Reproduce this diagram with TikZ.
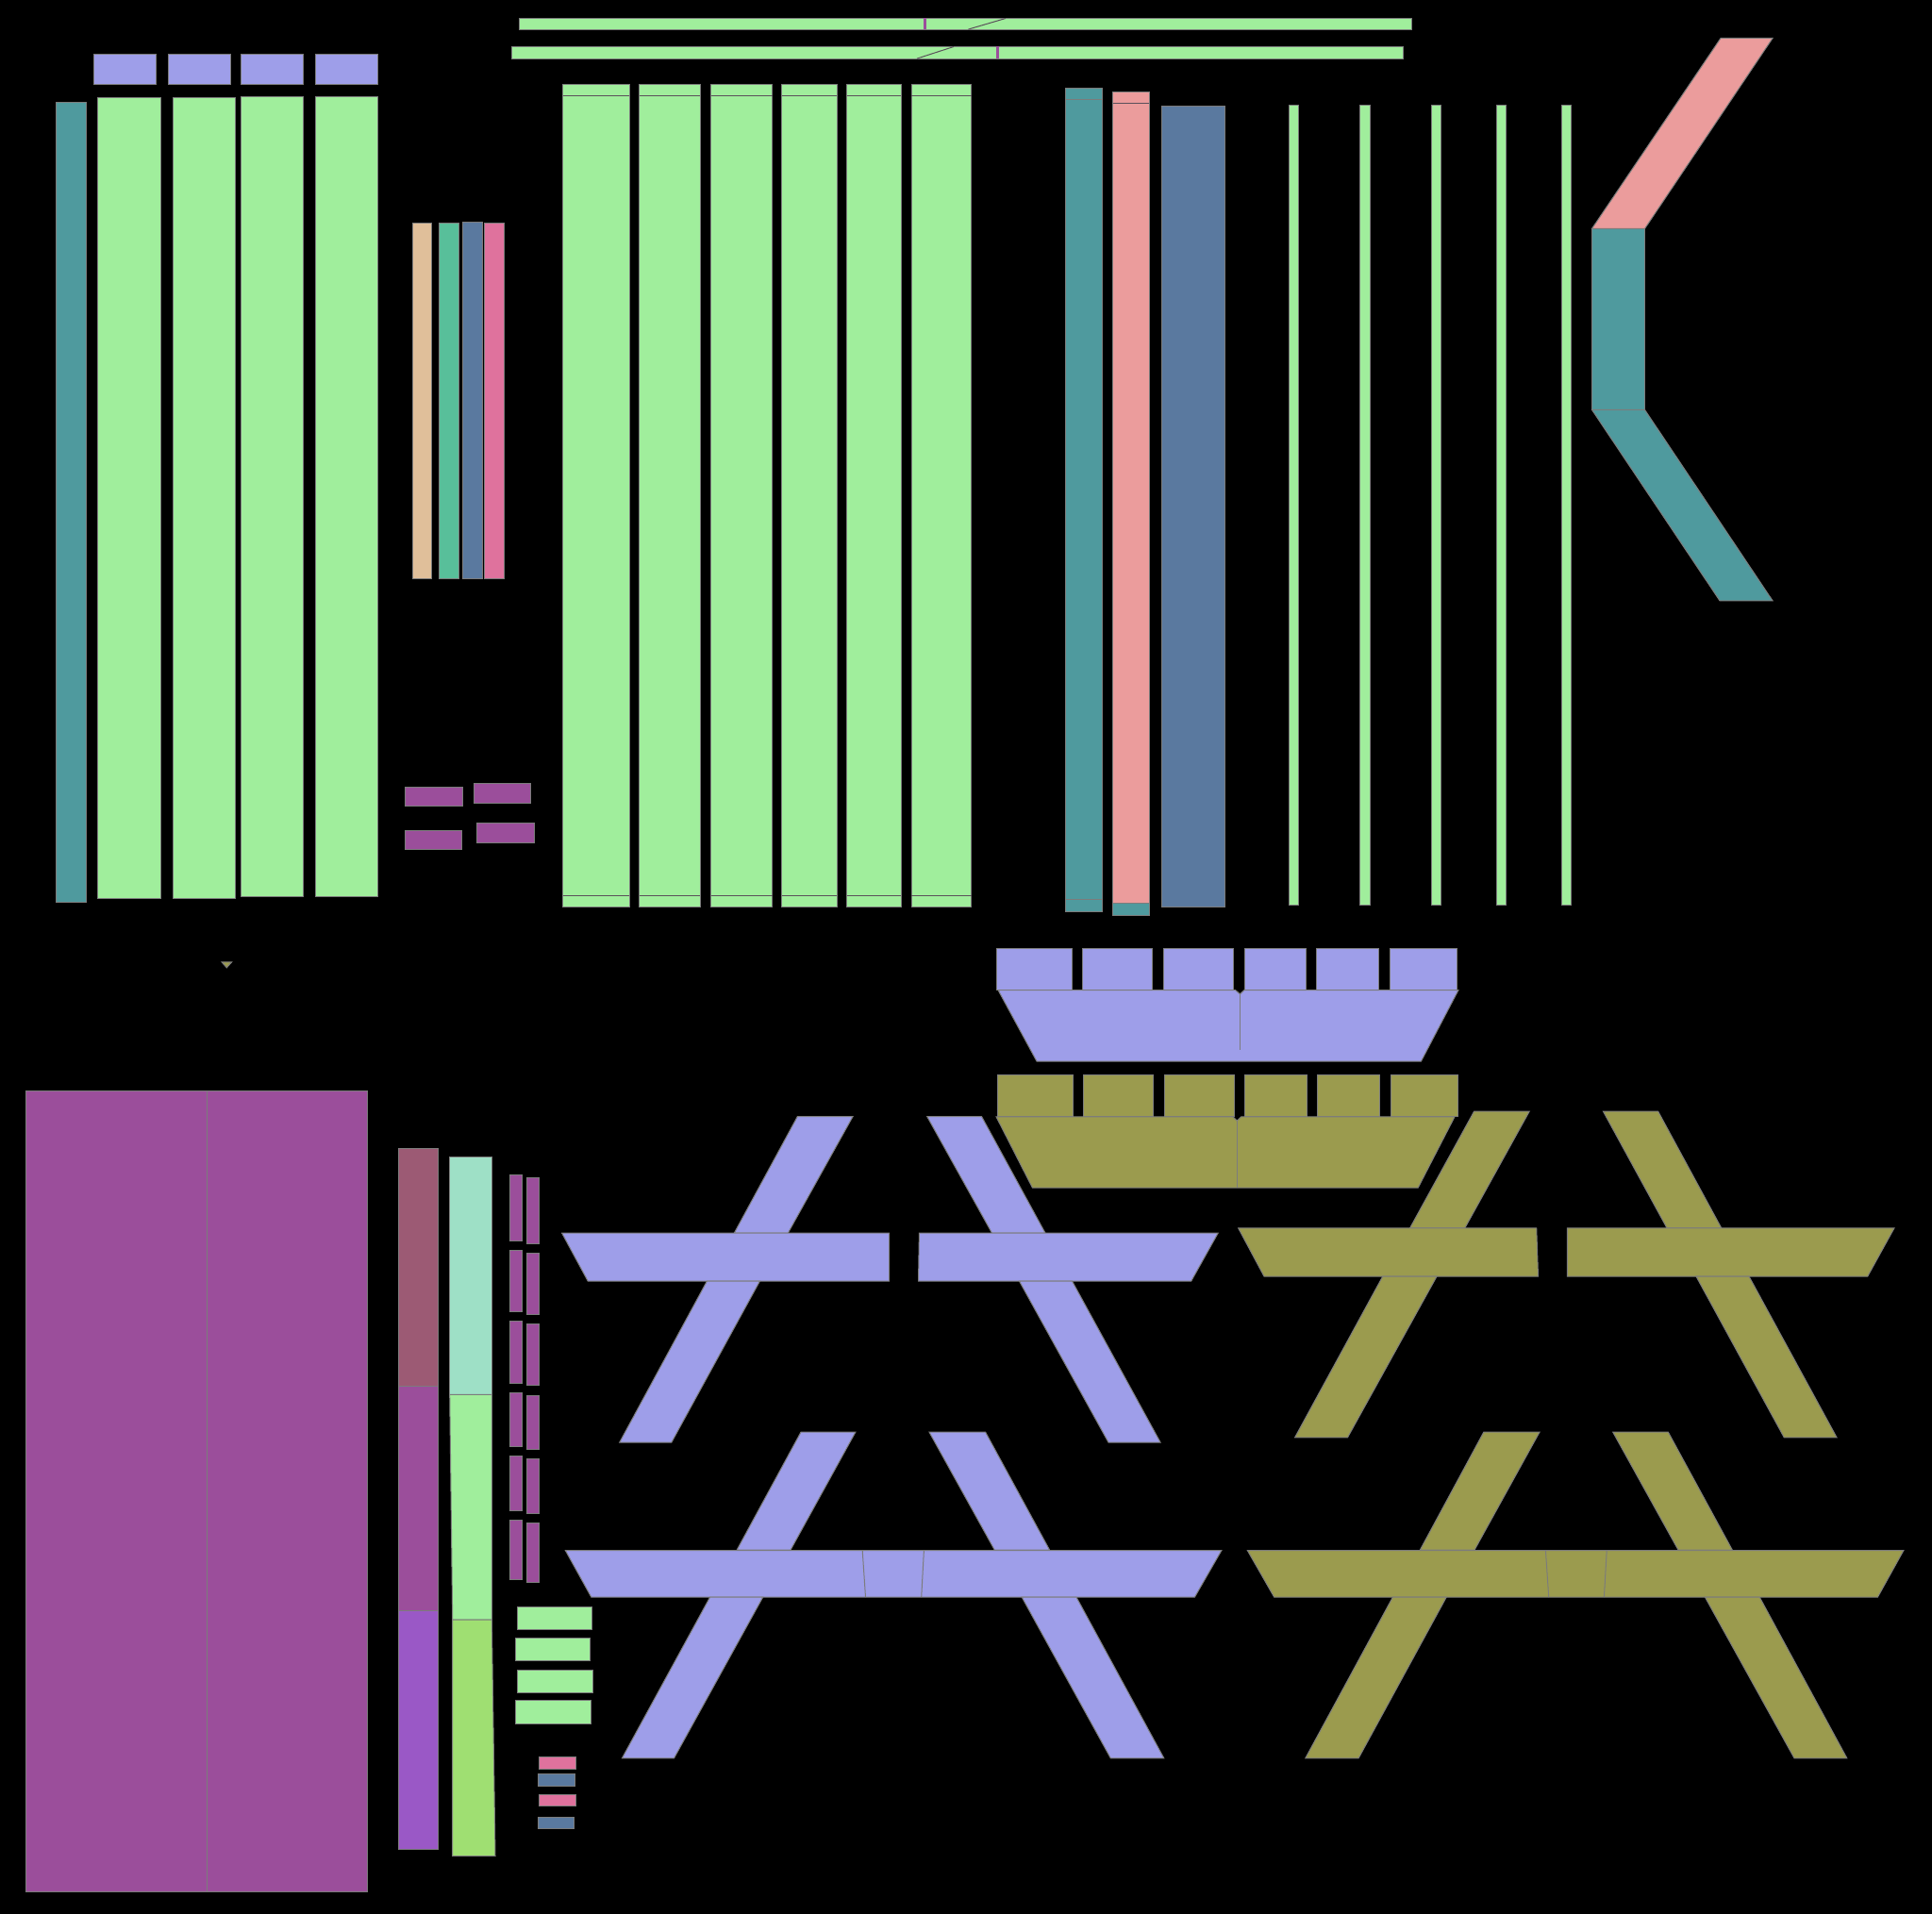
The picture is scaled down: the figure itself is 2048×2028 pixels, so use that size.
\documentclass[tikz,border=0pt]{standalone}
\definecolor{partgreen}{HTML}{A0EE9C}
\definecolor{partlilac}{HTML}{9E9EE9}
\definecolor{partolive}{HTML}{9B9B4E}
\definecolor{partteal}{HTML}{4F9A9E}
\definecolor{partsalmon}{HTML}{EB9C9C}
\definecolor{partblue}{HTML}{5A799F}
\definecolor{parttan}{HTML}{E0BF9A}
\definecolor{partsea}{HTML}{58BF9A}
\definecolor{partrose}{HTML}{DF729D}
\definecolor{partplum}{HTML}{9B4E9B}
\definecolor{partmauve}{HTML}{9C5A74}
\definecolor{partviolet}{HTML}{9A58C6}
\definecolor{partmint}{HTML}{9EE0C6}
\definecolor{partlime}{HTML}{9FDF72}
\definecolor{seam}{HTML}{7C7C7C}
\definecolor{darkseam}{HTML}{5A505A}
\tikzset{
  green/.style={fill=partgreen,draw=seam},
  lilac/.style={fill=partlilac,draw=seam},
  olive/.style={fill=partolive,draw=seam},
  teal/.style={fill=partteal,draw=seam},
  salmon/.style={fill=partsalmon,draw=seam},
  blue/.style={fill=partblue,draw=seam},
  tan/.style={fill=parttan,draw=seam},
  sea/.style={fill=partsea,draw=seam},
  rose/.style={fill=partrose,draw=seam},
  plum/.style={fill=partplum,draw=seam},
  mauve/.style={fill=partmauve,draw=seam},
  violet/.style={fill=partviolet,draw=seam},
  mint/.style={fill=partmint,draw=seam},
  lime/.style={fill=partlime,draw=seam},
  seamline/.style={draw=seam},
  darkline/.style={draw=darkseam}
}
\begin{document}
\begin{tikzpicture}[x=0.5pt,y=-0.5pt,line width=0.5pt]
    \useasboundingbox (0,-0.8) rectangle (2048,2027.2);
    \fill[black] (-10,-10) rectangle (2058,2038);
    \path[lilac] (99.5,56.3) rectangle (165.7,88.7);
    \path[lilac] (178.3,56.3) rectangle (244.5,88.7);
    \path[lilac] (255.3,56.3) rectangle (321.5,88.7);
    \path[lilac] (334.5,56.3) rectangle (400.7,88.7);
    \path[teal] (59.3,107.3) rectangle (91.8,955.7);
    \path[green] (103.7,102.7) rectangle (170.3,951.3);
    \path[green] (183,102.7) rectangle (249.5,951.3);
    \path[green] (255.6,101.7) rectangle (321.5,949.3);
    \path[green] (334.5,101.7) rectangle (400.7,949.3);
    \path[tan] (437.8,235.7) rectangle (457.7,612.5);
    \path[sea] (465.4,235.3) rectangle (486.8,612.5);
    \path[blue] (490.6,234.3) rectangle (511.7,612.5);
    \path[rose] (513.6,235.5) rectangle (534.6,612.5);
    \path[plum] (429.4,833.3) rectangle (490.6,853.3);
    \path[plum] (502.5,829.3) rectangle (562.6,850.7);
    \path[plum] (429.4,879.3) rectangle (489.9,899.3);
    \path[plum] (505.5,871.3) rectangle (566.8,892.7);
    \path[olive] (235,1019) -- (245.7,1019) -- (240.3,1025) -- cycle;
    \path[green] (550.6,18.7) rectangle (1496.4,30.3);
    \path[darkline] (1026.4,30.3) -- (1066,18.7);
    \fill[partplum] (979.3,18.7) rectangle (981.7,30.3);
    \path[green] (542.3,48.7) rectangle (1487.5,61.3);
    \path[darkline] (972,61.3) -- (1011,48.7);
    \fill[partplum] (1056.3,48.7) rectangle (1058.7,61.3);
    \path[green] (596.7,88.7) rectangle (667.2,961);
    \path[darkline] (596.7,101) -- (667.2,101);
    \path[darkline] (596.7,949) -- (667.2,949);
    \path[green] (677.7,88.7) rectangle (742.2,961);
    \path[darkline] (677.7,101) -- (742.2,101);
    \path[darkline] (677.7,949) -- (742.2,949);
    \path[green] (753.6,88.7) rectangle (818.7,961);
    \path[darkline] (753.6,101) -- (818.7,101);
    \path[darkline] (753.6,949) -- (818.7,949);
    \path[green] (828.8,88.7) rectangle (887.2,961);
    \path[darkline] (828.8,101) -- (887.2,101);
    \path[darkline] (828.8,949) -- (887.2,949);
    \path[green] (897.5,88.7) rectangle (955.2,961);
    \path[darkline] (897.5,101) -- (955.2,101);
    \path[darkline] (897.5,949) -- (955.2,949);
    \path[green] (966,88.7) rectangle (1029.5,961);
    \path[darkline] (966,101) -- (1029.5,101);
    \path[darkline] (966,949) -- (1029.5,949);
    \path[teal] (1129.6,92.3) rectangle (1168.4,965.7);
    \path[seamline] (1129.6,104.7) -- (1168.4,104.7);
    \path[seamline] (1129.6,952.3) -- (1168.4,952.3);
    \path[salmon] (1179.6,96.7) rectangle (1218.4,956.3);
    \path[darkline] (1179.6,108.7) -- (1218.4,108.7);
    \path[teal] (1179.6,956.3) rectangle (1218.4,969.3);
    \path[blue] (1231.6,111.3) rectangle (1298.5,960.3);
    \path[green] (1366.3,110.3) rectangle (1376.5,958.3);
    \path[green] (1441.8,110.3) rectangle (1452,958.3);
    \path[green] (1517.3,110.3) rectangle (1527,958.3);
    \path[green] (1586.7,110.3) rectangle (1596.4,958.3);
    \path[green] (1655,110.3) rectangle (1665.3,958.3);
    \path[salmon] (1824,39.7) -- (1879,39.7) -- (1743.5,241.6) -- (1687.5,241.6) -- cycle;
    \path[teal] (1687.5,241.6) rectangle (1743.5,433.6);
    \path[teal] (1687.5,433.6) -- (1743.5,433.6) -- (1879,636) -- (1823,636) -- cycle;
    \path[lilac] (1056.8,1004.7) rectangle (1136.5,1048.3);
    \path[lilac] (1147.4,1004.7) rectangle (1221.4,1048.3);
    \path[lilac] (1233.5,1004.7) rectangle (1307.4,1048.3);
    \path[lilac] (1319,1004.7) rectangle (1384.6,1048.3);
    \path[lilac] (1395.5,1004.7) rectangle (1461.8,1048.3);
    \path[lilac] (1473.9,1004.7) rectangle (1544,1048.3);
    \path[lilac] (1058,1048.7) -- (1309.4,1048.7) -- (1314.5,1053) -- (1319,1048.7) -- (1546,1048.7) -- (1506.4,1124.3) -- (1099,1124.3) -- cycle;
    \path[seamline] (1314.5,1053) -- (1314.5,1111.7);
    \path[olive] (1057.5,1138.3) rectangle (1137.8,1182.7);
    \path[olive] (1148.7,1138.3) rectangle (1222.6,1182.7);
    \path[olive] (1234.7,1138.3) rectangle (1308.7,1182.7);
    \path[olive] (1319.6,1138.3) rectangle (1385,1182.7);
    \path[olive] (1396,1138.3) rectangle (1462.4,1182.7);
    \path[olive] (1474.5,1138.3) rectangle (1545.3,1182.7);
    \path[olive] (1056,1183) -- (1306.8,1183) -- (1311.3,1187.3) -- (1315.7,1183) -- (1542,1183) -- (1503.2,1258.3) -- (1094.4,1258.3) -- cycle;
    \path[seamline] (1311.3,1187.3) -- (1311.3,1258.3);
    \path[lilac] (845.4,1182.7) -- (904.1,1182.7) -- (835.3,1306.3) -- (778.3,1306.3) -- cycle;
    \path[lilac] (595.6,1306.3) -- (942.7,1306.3) -- (942.7,1357.3) -- (623.2,1357.3) -- cycle;
    \path[lilac] (749.4,1357.3) -- (805.4,1357.3) -- (711.8,1528.3) -- (656.7,1528.3) -- cycle;
    \path[lilac] (982.7,1182.7) -- (1040.5,1182.7) -- (1108,1306.3) -- (1051.5,1306.3) -- cycle;
    \path[lilac] (974.4,1306.3) -- (1291.2,1306.3) -- (1262.7,1357.3) -- (973.5,1357.3) -- cycle;
    \path[lilac] (1080.5,1357.3) -- (1136.5,1357.3) -- (1230.1,1528.3) -- (1175,1528.3) -- cycle;
    \path[olive] (1562.6,1177.3) -- (1621.2,1177.3) -- (1552.8,1301) -- (1494.6,1301) -- cycle;
    \path[olive] (1312.6,1301) -- (1628.7,1301) -- (1630.5,1352.3) -- (1340,1352.3) -- cycle;
    \path[olive] (1465.7,1352.3) -- (1523,1352.3) -- (1428.5,1523) -- (1372.6,1523) -- cycle;
    \path[olive] (1699.4,1177.3) -- (1757.6,1177.3) -- (1824.7,1301) -- (1767,1301) -- cycle;
    \path[olive] (1661.3,1301) -- (2008,1301) -- (1979.7,1352.3) -- (1661.3,1352.3) -- cycle;
    \path[olive] (1798,1352.3) -- (1854,1352.3) -- (1947,1523) -- (1891.2,1523) -- cycle;
    \path[lilac] (849,1517.3) -- (906.9,1517.3) -- (838,1642.3) -- (781.1,1642.3) -- cycle;
    \path[lilac] (599.3,1642.7) -- (1294.9,1642.7) -- (1266.4,1692.3) -- (626.8,1692.3) -- cycle;
    \path[seamline] (914.2,1642.7) -- (917.5,1692.3);
    \path[seamline] (979.4,1642.7) -- (976.7,1692.3);
    \path[lilac] (752.6,1692.3) -- (808.7,1692.3) -- (714.5,1863) -- (659.4,1863) -- cycle;
    \path[lilac] (985,1517.3) -- (1044.6,1517.3) -- (1112.6,1642.3) -- (1054.3,1642.3) -- cycle;
    \path[lilac] (1083.2,1692.3) -- (1141,1692.3) -- (1233.8,1863) -- (1177.3,1863) -- cycle;
    \path[olive] (1572.8,1517.3) -- (1632,1517.3) -- (1563,1642.3) -- (1505.3,1642.3) -- cycle;
    \path[olive] (1322.3,1642.7) -- (2017.9,1642.7) -- (1990.4,1692.3) -- (1350.7,1692.3) -- cycle;
    \path[seamline] (1638.4,1642.7) -- (1641.7,1692.3);
    \path[seamline] (1703.2,1642.7) -- (1700.4,1692.3);
    \path[olive] (1476.4,1692.3) -- (1533.2,1692.3) -- (1440.1,1863) -- (1383.8,1863) -- cycle;
    \path[olive] (1709.7,1517.3) -- (1768.3,1517.3) -- (1836.3,1642.3) -- (1779,1642.3) -- cycle;
    \path[olive] (1807.4,1692.3) -- (1865.2,1692.3) -- (1957.8,1863) -- (1902,1863) -- cycle;
    \path[plum] (27.4,1155.8) rectangle (389.2,2004.7);
    \path[seamline] (219.4,1155.8) -- (219.4,2004.7);
    \path[mauve] (422.3,1216.3) rectangle (464.7,1468.4);
    \path[plum] (422.3,1468.4) rectangle (464.7,1707);
    \path[violet] (422.3,1707) rectangle (464.7,1959.7);
    \path[mint] (476.7,1225.5) rectangle (521.3,1477.6);
    \path[green] (476.7,1477.6) -- (521.3,1477.6) -- (521.3,1716.3) -- (479.7,1716.3) -- cycle;
    \path[lime] (479.7,1716.3) -- (521.3,1716.3) -- (525,1966.8) -- (479.7,1966.8) -- cycle;
    \path[plum] (540.3,1244.4) rectangle (553.7,1314.3);
    \path[plum] (540.3,1324.5) rectangle (553.7,1389.3);
    \path[plum] (540.3,1399.5) rectangle (553.7,1465.3);
    \path[plum] (540.3,1475.5) rectangle (553.7,1532.7);
    \path[plum] (540.3,1542.3) rectangle (553.7,1600.5);
    \path[plum] (540.3,1610.7) rectangle (553.7,1673.5);
    \path[plum] (558.3,1247.4) rectangle (571.7,1317.3);
    \path[plum] (558.3,1327.6) rectangle (571.7,1392.3);
    \path[plum] (558.3,1402.6) rectangle (571.7,1467.3);
    \path[plum] (558.3,1478.6) rectangle (571.7,1535.7);
    \path[plum] (558.3,1545.4) rectangle (571.7,1603.6);
    \path[plum] (558.3,1613.3) rectangle (571.7,1676.5);
    \path[green] (548.7,1703) rectangle (627.3,1727);
    \path[green] (546.7,1735.2) rectangle (625.3,1759.2);
    \path[green] (548.7,1769.9) rectangle (628.3,1793.9);
    \path[green] (546.7,1802) rectangle (626.3,1827);
    \path[rose] (571.3,1861.7) rectangle (610.7,1874.5);
    \path[blue] (570.3,1879.6) rectangle (609.7,1892.3);
    \path[rose] (571.3,1901.5) rectangle (610.7,1913.3);
    \path[blue] (570.3,1925.5) rectangle (608.7,1937.3);
\end{tikzpicture}
\end{document}
